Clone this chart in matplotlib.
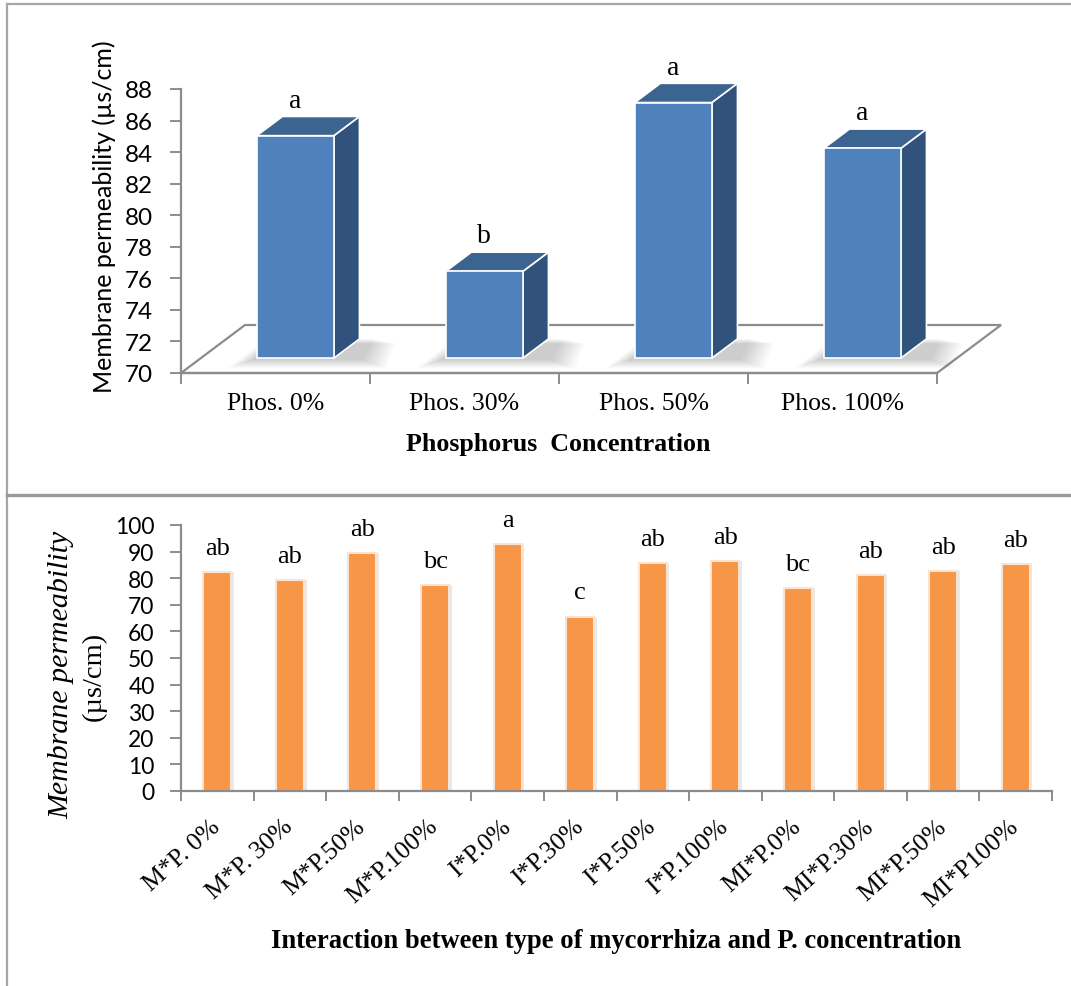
import matplotlib
matplotlib.use('Agg')
import matplotlib.pyplot as plt
from matplotlib.patches import Polygon, Rectangle
from matplotlib.lines import Line2D

# datos del grafico superior (efecto del fosforo)
phos_labels = ['Phos. 0%', 'Phos. 30%', 'Phos. 50%', 'Phos. 100%']
phos_values = [84.1, 75.5, 86.2, 83.3]
phos_letters = ['a', 'b', 'a', 'a']

# datos del grafico inferior (interaccion micorriza x fosforo)
inter_labels = ['M*P. 0%', 'M*P. 30%', 'M*P.50%', 'M*P.100%', 'I*P.0%', 'I*P.30%',
                'I*P.50%', 'I*P.100%', 'MI*P.0%', 'MI*P.30%', 'MI*P.50%', 'MI*P100%']
inter_values = [82.2, 79.2, 89.6, 77.4, 93.0, 65.6, 85.7, 86.5, 76.4, 81.3, 82.8, 85.2]
inter_letters = ['ab', 'ab', 'ab', 'bc', 'a', 'c', 'ab', 'ab', 'bc', 'ab', 'ab', 'ab']

W, H = 1071, 987
SERIF = 'Liberation Serif'
SANS = 'Lato'
GRAY = '#8c8c8c'


def px_rect(x0, y0, x1, y1):
    """convierte una caja en pixeles (origen arriba-izquierda) a rect de figura"""
    return [x0 / W, 1 - y1 / H, (x1 - x0) / W, (y1 - y0) / H]


fig = plt.figure(figsize=(W / 100, H / 100), dpi=100)
fig.patch.set_facecolor('white')

# marco gris de la figura
fig.add_artist(Line2D([7 / W, 1], [1 - 5 / H, 1 - 5 / H], color='#a6a6a6', lw=1.6))
fig.add_artist(Line2D([7 / W, 7 / W], [1 - 5 / H, 0], color='#a6a6a6', lw=1.6))
fig.add_artist(Line2D([7 / W, 1], [1 - 496 / H, 1 - 496 / H], color='#9a9a9a', lw=2.4))

# ---------------- grafico superior (pseudo 3D) ----------------
ax = fig.add_axes(px_rect(181, 90, 1003, 374))
ax.set_xlim(-0.5, 3.849)
ax.set_ylim(70, 88)
px_x = 822 / 4.349   # pixeles por unidad x
px_y = 284 / 18      # pixeles por unidad y

floor_dx = 64 / px_x
floor_dy = 48 / px_y
floor = Polygon([(-0.5, 70), (3.5, 70), (3.5 + floor_dx, 70 + floor_dy),
                 (-0.5 + floor_dx, 70 + floor_dy)], closed=True,
                facecolor='white', edgecolor=GRAY, lw=1.6, zorder=1, clip_on=False)
ax.add_patch(floor)

bw = 77 / px_x
f0, df = 0.31, 0.40
for i, (v, letter) in enumerate(zip(phos_values, phos_letters)):
    x0 = i - bw / 2 + floor_dx * f0
    y0 = 70 + floor_dy * f0
    y1 = v + floor_dy * f0
    ddx, ddy = floor_dx * df, floor_dy * df
    # sombra difusa sobre el piso
    for k in range(10):
        g = k * 2.5
        sh = Polygon([(x0 - (6 + g) / px_x, y0 - (2 + g * 0.35) / px_y),
                      (x0 + bw + ddx + (4 + g) / px_x, y0 - (2 + g * 0.35) / px_y),
                      (x0 + bw + ddx + (14 + g) / px_x, y0 + ddy - g * 0.2 / px_y),
                      (x0 + ddx - g / px_x, y0 + ddy - g * 0.2 / px_y)],
                     closed=True, facecolor='black', edgecolor='none', alpha=0.018,
                     zorder=2, clip_on=False)
        ax.add_patch(sh)
    side = Polygon([(x0 + bw, y0), (x0 + bw + ddx, y0 + ddy), (x0 + bw + ddx, y1 + ddy),
                    (x0 + bw, y1)], closed=True, facecolor='#31527b', edgecolor='white',
                   lw=1.2, zorder=3, clip_on=False)
    top = Polygon([(x0, y1), (x0 + bw, y1), (x0 + bw + ddx, y1 + ddy), (x0 + ddx, y1 + ddy)],
                  closed=True, facecolor='#3c6491', edgecolor='white', lw=1.2, zorder=3,
                  clip_on=False)
    front = Rectangle((x0, y0), bw, y1 - y0, facecolor='#4f81bd', edgecolor='white',
                      lw=1.2, zorder=4, clip_on=False)
    ax.add_patch(side)
    ax.add_patch(top)
    ax.add_patch(front)
    ax.annotate(letter, (x0 + bw / 2, y1 + ddy), xytext=(0, 7), textcoords='offset points',
                ha='center', va='baseline', fontsize=20, family=SERIF, annotation_clip=False)

# ejes
ax.plot([-0.5, 3.5], [70, 70], color=GRAY, lw=1.6, clip_on=False, zorder=1)
for s in ['top', 'right', 'bottom']:
    ax.spines[s].set_visible(False)
ax.spines['left'].set_color(GRAY)
ax.spines['left'].set_linewidth(1.6)
ax.set_yticks(range(70, 89, 2))
ax.tick_params(axis='y', direction='out', length=8, width=1.4, color=GRAY, labelsize=17.5,
               pad=12)
for t in ax.get_yticklabels():
    t.set_family(SANS)
ax.set_xticks(range(4))
ax.set_xticklabels(phos_labels, family=SERIF, fontsize=18.5)
ax.set_xticks([-0.5, 0.5, 1.5, 2.5, 3.5], minor=True)
ax.tick_params(axis='x', which='major', length=0, pad=14)
ax.tick_params(axis='x', which='minor', direction='out', length=8, width=1.4, color=GRAY)
ax.set_facecolor('none')
fig.text(104 / W, 1 - 217 / H, 'Membrane permeability (\u00b5s/cm)', rotation=90,
         ha='center', va='center', family=SANS, fontsize=18)
fig.text(558 / W, 1 - 445 / H, 'Phosphorus  Concentration', ha='center', va='center',
         family=SERIF, fontsize=18.7, fontweight='bold')

# ---------------- grafico inferior ----------------
ax2 = fig.add_axes(px_rect(181, 526, 1052, 792))
x = list(range(len(inter_values)))
ax2.bar([xi + 0.025 for xi in x], inter_values, width=0.41, color='#d0d0d0', alpha=0.45,
        zorder=1, linewidth=0)
ax2.bar(x, inter_values, width=0.386, color='#f79646', edgecolor='#fbe3d2', linewidth=1.5,
        zorder=2)
for xi, v, letter in zip(x, inter_values, inter_letters):
    ax2.annotate(letter, (xi, v), xytext=(0, 13), textcoords='offset points', ha='center',
                 va='baseline', fontsize=19, family=SERIF, annotation_clip=False)
ax2.set_xlim(-0.5, 11.5)
ax2.set_ylim(0, 100)
ax2.set_yticks(range(0, 101, 10))
ax2.tick_params(axis='y', direction='out', length=8, width=1.4, color=GRAY, labelsize=16.5,
                pad=11)
for t in ax2.get_yticklabels():
    t.set_family(SANS)
ax2.set_xticks(x)
ax2.set_xticklabels(inter_labels, family=SERIF, fontsize=18.5, rotation=42, ha='right',
                    va='center', rotation_mode='anchor')
ax2.set_xticks([i - 0.5 for i in range(13)], minor=True)
ax2.tick_params(axis='x', which='major', length=0, pad=23)
ax2.tick_params(axis='x', which='minor', direction='out', length=7, width=1.4, color=GRAY)
for s in ['top', 'right']:
    ax2.spines[s].set_visible(False)
for s in ['left', 'bottom']:
    ax2.spines[s].set_color(GRAY)
    ax2.spines[s].set_linewidth(1.6)

fig.text(61 / W, 1 - 675 / H, 'Membrane permeability', rotation=90, ha='center', va='center',
         family=SERIF, style='italic', fontsize=21.5)
fig.text(94 / W, 1 - 676 / H, '(\u00b5s/cm)', rotation=90, ha='center', va='center',
         family=SERIF, fontsize=20.5)
fig.text(616 / W, 1 - 942 / H, 'Interaction between type of mycorrhiza and P. concentration',
         ha='center', va='center', family=SERIF, fontsize=19.2, fontweight='bold')

fig.savefig('out.png', dpi=100, facecolor='white')
